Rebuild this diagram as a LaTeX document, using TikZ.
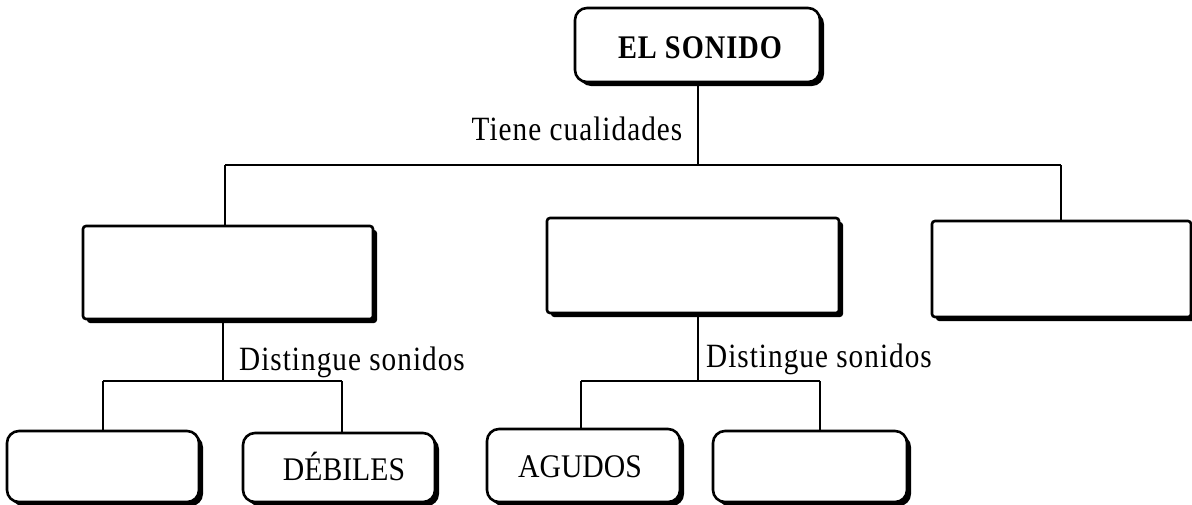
\documentclass[tikz,border=0pt]{standalone}
\usepackage{fontspec}
\setmainfont{Liberation Serif}
\newfontfamily\narrowfont[FakeStretch=0.9]{Liberation Serif}
\newfontfamily\spacedfont[FakeStretch=0.86,LetterSpace=3]{Liberation Serif}
\usetikzlibrary{shadows}
\begin{document}
\begin{tikzpicture}[x=1pt,y=-1pt,
  box/.style={draw=black,line width=2.6pt,fill=white,inner sep=0pt,
    drop shadow={shadow xshift=4pt,shadow yshift=-4pt,opacity=1,fill=black}},
  roundbox/.style={box,rounded corners=12pt},
  flatbox/.style={box,rounded corners=3pt},
  conn/.style={draw=black,line width=2.4pt},
  lbl/.style={font=\narrowfont\fontsize{33}{36}\selectfont,inner sep=0pt,anchor=base},
  slbl/.style={lbl,font=\spacedfont\fontsize{34}{36}\selectfont}]
\useasboundingbox (0,0) rectangle (1192,504);

% boxes
\node[roundbox,minimum width=245pt,minimum height=74pt] (top) at (697.5,45) {};
\node[lbl,font=\bfseries\spacedfont\fontsize{33}{36}\selectfont] (toptxt) at (700,58) {EL SONIDO};

\node[flatbox,minimum width=290pt,minimum height=93pt] (m1) at (228,272.5) {};
\node[flatbox,minimum width=292pt,minimum height=95pt] (m2) at (693,265.5) {};
\node[flatbox,minimum width=259pt,minimum height=96pt] (m3) at (1061.5,269) {};

\node[roundbox,minimum width=192pt,minimum height=71pt] (b1) at (103,466.5) {};
\node[roundbox,minimum width=192pt,minimum height=69pt] (b2) at (339,467.5) {};
\node[roundbox,minimum width=193pt,minimum height=73pt] (b3) at (583.5,465.5) {};
\node[roundbox,minimum width=194pt,minimum height=71pt] (b4) at (810,466.5) {};

\node[lbl] (debiles) at (344,480) {DÉBILES};
\node[lbl] (agudos) at (580,477) {AGUDOS};

% connectors
\coordinate (hl) at (225,165);
\coordinate (hr) at (1061,165);
\coordinate (hc) at (698,165);
\draw[conn] (top.south -| hc) -- (hc);
\draw[conn] (hl) -- (hr);
\draw[conn] (hl) -- (hl |- m1.north);
\draw[conn] (hr) -- (hr |- m3.north);

\coordinate (j1) at (223,381);
\coordinate (j1l) at (103,381);
\coordinate (j1r) at (342,381);
\draw[conn] (m1.south -| j1) -- (j1);
\draw[conn] (j1l) -- (j1r);
\draw[conn] (j1l) -- (j1l |- b1.north);
\draw[conn] (j1r) -- (j1r |- b2.north);

\coordinate (j2) at (698,381);
\coordinate (j2l) at (581,381);
\coordinate (j2r) at (820,381);
\draw[conn] (m2.south -| j2) -- (j2);
\draw[conn] (j2l) -- (j2r);
\draw[conn] (j2l) -- (j2l |- b3.north);
\draw[conn] (j2r) -- (j2r |- b4.north);

% labels
\node[slbl] (tiene) at (577,140) {Tiene cualidades};
\node[slbl] (dist1) at (352,370) {Distingue sonidos};
\node[slbl] (dist2) at (819,367) {Distingue sonidos};
\end{tikzpicture}
\end{document}
